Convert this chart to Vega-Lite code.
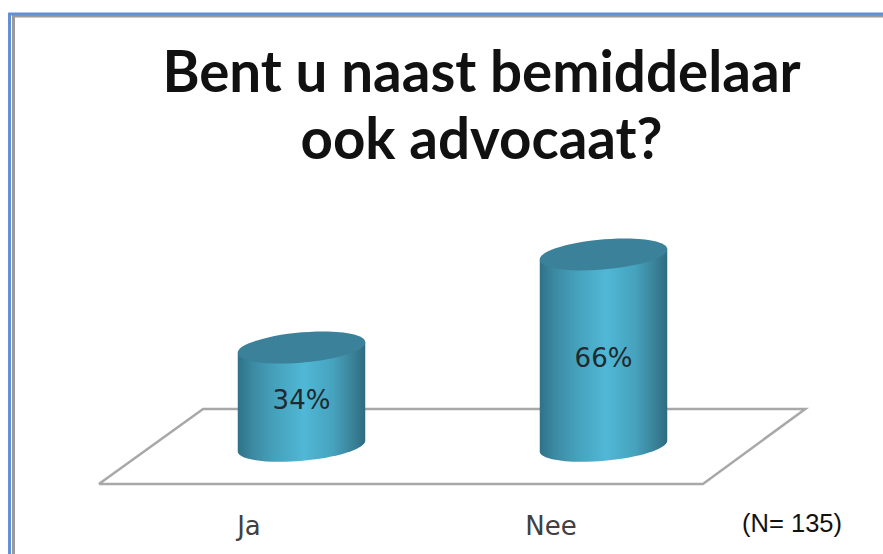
{
"$schema":"https://vega.github.io/schema/vega-lite/v6.json",
"width":883,"height":284,
"autosize":"none",
"padding":{"left":0,"right":0,"top":200,"bottom":70},
"background":"white",
"view":{"stroke":null},
"title":{"text":["Bent u naast bemiddelaar","ook advocaat?"],"font":"Lato","fontWeight":"bold","fontSize":56.5,"lineHeight":67,"color":"#111111","anchor":"middle","frame":"group","dx":40,"offset":-162},
"datasets":{
"bars":[{"category":"Ja","value":34,"label":"34%"},{"category":"Nee","value":66,"label":"66%"}],
"floor":[{"i":0,"px":11.2,"lv":-12.89},{"i":1,"px":23.0,"lv":12.9},{"i":2,"px":91.2,"lv":12.9},{"i":3,"px":79.6,"lv":-12.89},{"i":4,"px":11.2,"lv":-12.89}],
"frameBlue":[{"i":0,"px":1.08,"lv":-37},{"i":1,"px":1.08,"lv":148.6},{"i":2,"px":100,"lv":148.6}],
"frameGrey":[{"i":0,"px":1.53,"lv":-37},{"i":1,"px":1.53,"lv":147.9},{"i":2,"px":100,"lv":147.9}],
"note":[{"note":"(N= 135)","px":89.7,"lv":-26.6}]
},
"resolve":{"scale":{"x":"independent"},"axis":{"x":"independent"}},
"layer":[
{"data":{"name":"frameGrey"},"mark":{"type":"line","stroke":"#9a9a9a","strokeWidth":3,"clip":false},
 "encoding":{"x":{"field":"px","type":"quantitative","scale":{"domain":[0,100]},"axis":null},"y":{"field":"lv","type":"quantitative","scale":{"domain":[-12.89,84.7],"nice":false,"zero":false},"axis":null},"order":{"field":"i"}}},
{"data":{"name":"frameBlue"},"mark":{"type":"line","stroke":"#5f8fd6","strokeWidth":3,"clip":false},
 "encoding":{"x":{"field":"px","type":"quantitative","scale":{"domain":[0,100]},"axis":null},"y":{"field":"lv","type":"quantitative","scale":{"domain":[-12.89,84.7],"nice":false,"zero":false},"axis":null},"order":{"field":"i"}}},
{"data":{"name":"floor"},"mark":{"type":"line","stroke":"#a8a8a8","strokeWidth":2.5,"clip":false},
 "encoding":{"x":{"field":"px","type":"quantitative","scale":{"domain":[0,100]},"axis":null},"y":{"field":"lv","type":"quantitative","scale":{"domain":[-12.89,84.7],"nice":false,"zero":false},"axis":null},"order":{"field":"i"}}},
{"data":{"name":"bars"},
 "mark":{"type":"point","filled":true,"opacity":1,"strokeWidth":0,"size":16384,"fill":{"x1":0,"y1":0,"x2":1,"y2":0,"gradient":"linear","stops":[{"offset":0,"color":"#2f7287"},{"offset":0.12,"color":"#3c8aa3"},{"offset":0.3,"color":"#46a2bd"},{"offset":0.52,"color":"#50b8d6"},{"offset":0.75,"color":"#46a2bd"},{"offset":0.9,"color":"#3a8299"},{"offset":1,"color":"#2e6c80"}]}},
 "encoding":{
  "x":{"field":"category","type":"nominal","scale":{"type":"point","domain":["Ja","Nee"],"range":[301.5,603.5],"padding":0},"axis":{"title":null,"domain":false,"ticks":false,"grid":false,"labelAngle":0,"labelFont":"DejaVu Sans","labelFontSize":26,"labelColor":"#404040","labelOffset":-53,"labelPadding":29,"labelBaseline":"top"}},
  "y":{"field":"value","type":"quantitative","scale":{"domain":[-12.89,84.7],"nice":false,"zero":false},"axis":null},
  "shape":{"field":"category","type":"nominal","legend":null,"scale":{"domain":["Ja","Nee"],"range":["M-0.996,0.087L-0.996,1.632A1,0.23,-5,0,0,0.996,1.458L0.996,-0.087Z","M-0.996,0.087L-0.996,3.087A1,0.23,-5,0,0,0.996,2.913L0.996,-0.087Z"]}}
 }},
{"data":{"name":"bars"},
 "mark":{"type":"point","filled":true,"opacity":1,"strokeWidth":0,"size":16384,"fill":"#3a8199"},
 "encoding":{
  "x":{"field":"category","type":"nominal","scale":{"type":"point","domain":["Ja","Nee"],"range":[301.5,603.5],"padding":0},"axis":null},
  "y":{"field":"value","type":"quantitative","scale":{"domain":[-12.89,84.7],"nice":false,"zero":false},"axis":null},
  "shape":{"value":"M-0.996,0.087A1,0.23,-5,1,1,0.996,-0.087A1,0.23,-5,1,1,-0.996,0.087Z"}
 }},
{"data":{"name":"bars"},
 "transform":[{"calculate":"datum.value*0.455","as":"mid"}],
 "mark":{"type":"text","font":"DejaVu Sans","fontSize":26,"color":"#1f2a30","baseline":"middle","align":"center"},
 "encoding":{
  "x":{"field":"category","type":"nominal","scale":{"type":"point","domain":["Ja","Nee"],"range":[301.5,603.5],"padding":0},"axis":null},
  "y":{"field":"mid","type":"quantitative","scale":{"domain":[-12.89,84.7],"nice":false,"zero":false},"axis":null},
  "text":{"field":"label"}
 }},
{"data":{"name":"note"},
 "mark":{"type":"text","font":"Liberation Sans","fontSize":25.5,"color":"#111111","baseline":"middle","align":"center","clip":false},
 "encoding":{
  "x":{"field":"px","type":"quantitative","scale":{"domain":[0,100]},"axis":null},
  "y":{"field":"lv","type":"quantitative","scale":{"domain":[-12.89,84.7],"nice":false,"zero":false},"axis":null},
  "text":{"field":"note"}
 }}
]
}
